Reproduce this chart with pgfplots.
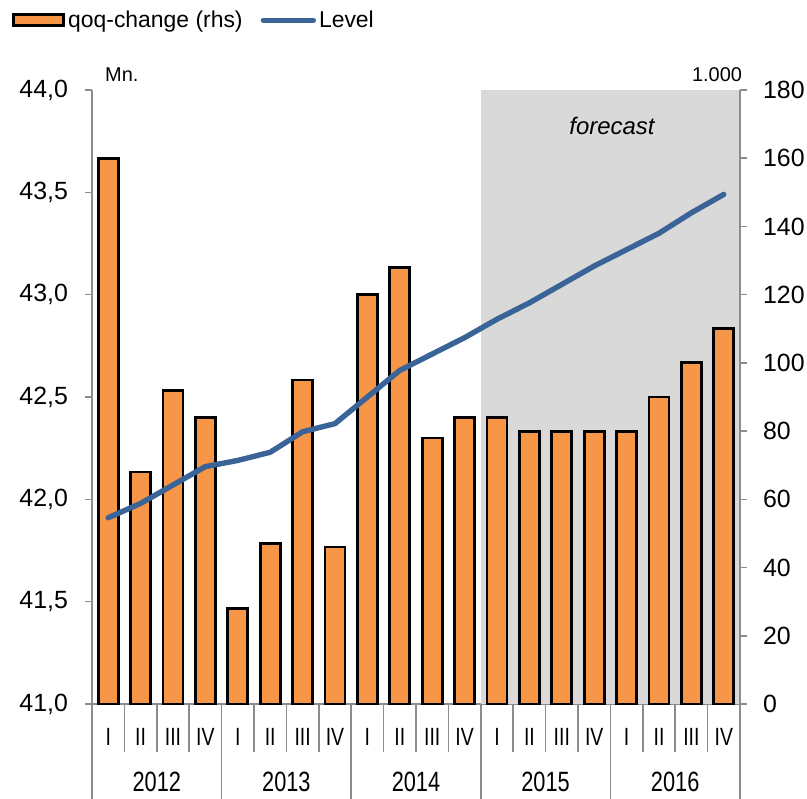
\documentclass[border=0pt]{standalone}
\usepackage{pgfplots}
\pgfplotsset{compat=1.18}
\usepackage{fontspec}
\setmainfont{Liberation Sans}
\newfontfamily\narrow[FakeStretch=0.78]{Liberation Sans}

\definecolor{barorange}{HTML}{F79646}
\definecolor{lvlblue}{HTML}{3A6397}
\definecolor{fcgray}{HTML}{D9D9D9}
\definecolor{axgray}{HTML}{8C8C8C}

\pgfplotstableread{
x  qoq  level
0  160  41.91
1  68   41.98
2  92   42.07
3  84   42.16
4  28   42.19
5  47   42.23
6  95   42.33
7  46   42.37
8  120  42.50
9  128  42.63
10 78   42.71
11 84   42.79
12 84   42.88
13 80   42.96
14 80   43.05
15 80   43.14
16 80   43.22
17 90   43.30
18 100  43.40
19 110  43.49
}\datatable

\pgfplotsset{
  common/.style={
    scale only axis, width=324bp, height=307bp,
    xmin=-0.5, xmax=19.5,
    axis line style={axgray, line width=0.75bp},
    tick style={axgray, line width=0.75bp},
    tick align=outside,
    ticklabel style={font=\fontsize{12.5}{14}\selectfont},
    /pgf/number format/assume math mode=true,
    clip=false,
  },
  barlegend/.style={legend image code/.code={\draw[##1] (0bp,-2.75bp) rectangle (25bp,2.75bp);}},
  linelegend/.style={legend image code/.code={\draw[##1] (0bp,0bp) -- (25bp,0bp);}},
}
\tikzset{yearlbl/.style={font=\narrow\fontsize{14}{16}\selectfont, yshift=-39bp}}

\begin{document}
\begin{tikzpicture}
% bars, forecast shading, category axis
\begin{axis}[common,
  ymin=0, ymax=180,
  axis x line*=bottom, axis y line=none,
  xtick={-0.5,0.5,...,19.5},
  x tick label as interval,
  xticklabels={I,II,III,IV,I,II,III,IV,I,II,III,IV,I,II,III,IV,I,II,III,IV},
  xticklabel style={font=\narrow\fontsize{12.5}{14}\selectfont, yshift=15.5bp},
  major tick length=24bp,
  extra x ticks={-0.5,3.5,7.5,11.5,15.5,19.5},
  extra x tick labels={},
  extra x tick style={major tick length=47.5bp},
  legend columns=2,
  legend style={at={(axis description cs:-0.1235,1.135)}, anchor=north west,
    draw=none, fill=none, inner sep=0pt, font=\fontsize{11.5}{13}\selectfont,
    /tikz/every even column/.append style={column sep=7.5bp},
    nodes={inner sep=1.5bp}},
]
\addplot[fill=fcgray, draw=none, forget plot] coordinates {(11.5,180) (19.5,180)} \closedcycle;
\addplot[ybar, bar width=10bp, fill=barorange, draw=black, line width=1.4bp, barlegend]
  table[x=x, y=qoq] {\datatable};
\addlegendentry{qoq-change (rhs)}
\addlegendimage{lvlblue, line width=2.7bp, line cap=round, linelegend}
\addlegendentry{Level}
\node[font=\itshape\fontsize{12}{14}\selectfont] at (axis cs:15.55,169.5) {forecast};
\node[yearlbl] at (axis cs:1.5,0) {2012};
\node[yearlbl] at (axis cs:5.5,0) {2013};
\node[yearlbl] at (axis cs:9.5,0) {2014};
\node[yearlbl] at (axis cs:13.5,0) {2015};
\node[yearlbl] at (axis cs:17.5,0) {2016};
\end{axis}

% right axis
\begin{axis}[common,
  ymin=0, ymax=180, ytick={0,20,...,180},
  axis x line=none, axis y line*=right,
  major tick length=3.5bp,
  yticklabel style={xshift=4.5bp},
]
\node[font=\fontsize{10}{12}\selectfont] at ([yshift=7.5bp]axis description cs:0.9645,1) {1.000};
\end{axis}

% left axis, level
\begin{axis}[common,
  ymin=41, ymax=44, ytick={41,41.5,...,44},
  axis x line=none, axis y line*=left,
  major tick length=3.5bp,
  yticklabel style={xshift=-5bp, /pgf/number format/.cd, fixed, fixed zerofill, precision=1, use comma},
]
\addplot[lvlblue, line width=2.7bp, line cap=round, line join=round]
  table[x=x, y=level] {\datatable};
\node[font=\fontsize{10}{12}\selectfont] at ([yshift=7.5bp]axis description cs:0.046,1) {Mn.};
\end{axis}

\pgfresetboundingbox
\path (-46bp,-47.5bp) rectangle (357.5bp,352bp);
\end{tikzpicture}
\end{document}
